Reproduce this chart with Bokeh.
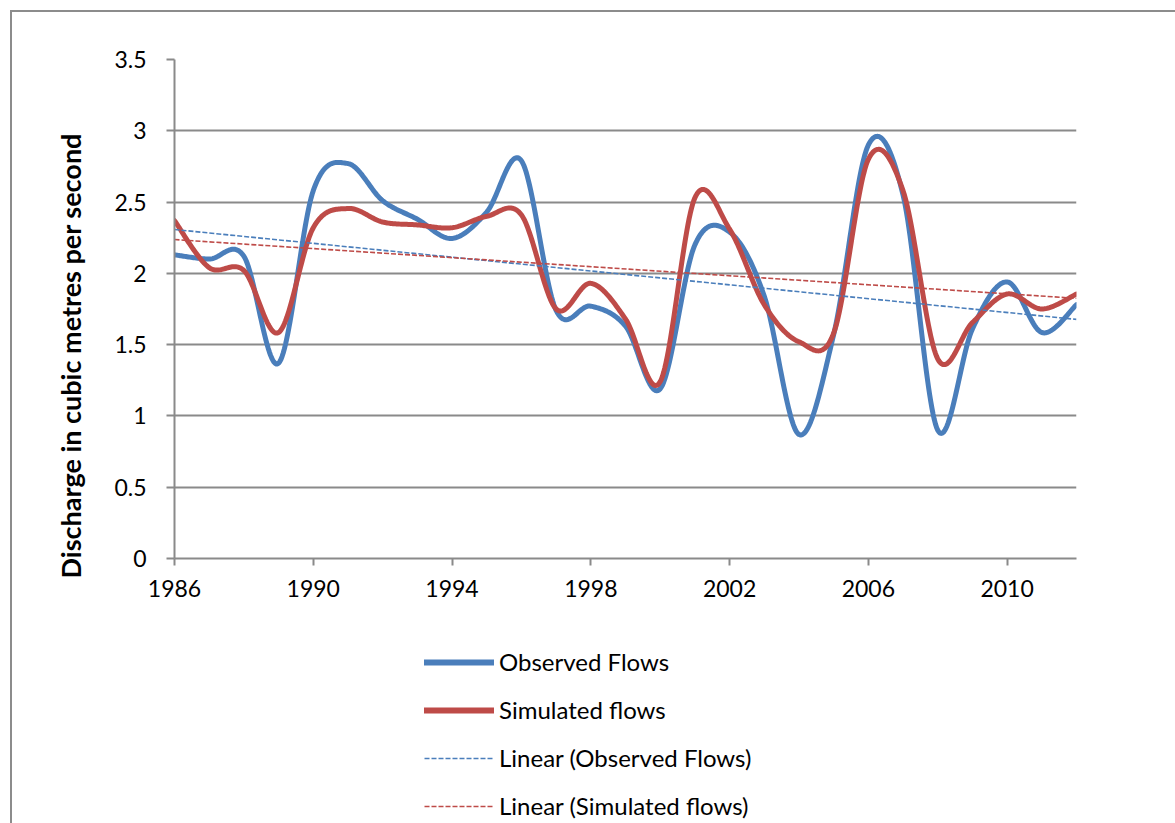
import numpy as np
from bokeh.plotting import figure
from bokeh.layouts import column
from bokeh.models import (Range1d, FixedTicker, CustomJSTickFormatter, Legend,
                          LegendItem, Title)
from bokeh.embed import file_html
from bokeh.resources import INLINE

# ---- data ----
years = list(range(1986, 2013))
observed = [2.13, 2.10, 2.12, 1.37, 2.58, 2.77, 2.51, 2.38, 2.245, 2.43,
            2.79, 1.74, 1.77, 1.63, 1.19, 2.20, 2.29, 1.84, 0.87, 1.57,
            2.90, 2.55, 0.90, 1.61, 1.94, 1.585, 1.78]
simulated = [2.37, 2.04, 2.02, 1.585, 2.32, 2.455, 2.36, 2.34, 2.32, 2.40,
             2.41, 1.75, 1.93, 1.68, 1.24, 2.53, 2.31, 1.78, 1.52, 1.58,
             2.80, 2.58, 1.40, 1.655, 1.855, 1.75, 1.855]
x_ticks = [1986, 1990, 1994, 1998, 2002, 2006, 2010]
y_ticks = [0, 0.5, 1, 1.5, 2, 2.5, 3, 3.5]
series_names = ["Observed Flows", "Simulated flows",
                "Linear (Observed Flows)", "Linear (Simulated flows)"]
y_title = "Discharge in cubic metres per second"

BLUE = "#4a7ebb"
RED = "#be4b48"
GRAY = "#8a8a8a"
FONT = "Lato"


def smooth_curve(xs, ys, n=30):
    """Excel-style smoothed line drawing (Catmull-Rom Bezier through points)."""
    P = np.column_stack([np.asarray(xs, float), np.asarray(ys, float)])
    m = len(P)
    out = []
    for i in range(m - 1):
        p0 = P[i - 1] if i > 0 else P[i]
        p1 = P[i]
        p2 = P[i + 1]
        p3 = P[i + 2] if i + 2 < m else P[i + 1]
        c1 = p1 + (p2 - p0) / 6.0
        c2 = p2 - (p3 - p1) / 6.0
        t = np.linspace(0, 1, n, endpoint=(i == m - 2))[:, None]
        seg = ((1 - t) ** 3) * p1 + 3 * ((1 - t) ** 2) * t * c1 + \
            3 * (1 - t) * t ** 2 * c2 + t ** 3 * p2
        out.append(seg)
    out = np.vstack(out)
    return out[:, 0], out[:, 1]


MAIN_H = 606
LEG_H = 813 - MAIN_H

p = figure(frame_width=902, frame_height=499,
           min_border_left=162, min_border_top=47, min_border_right=101,
           min_border_bottom=MAIN_H - 47 - 499,
           x_range=Range1d(1986, 2012), y_range=Range1d(0, 3.5),
           output_backend="svg", toolbar_location=None)
p.outline_line_color = None
p.background_fill_color = "white"
p.border_fill_color = "white"

# axes
for ax in (p.xaxis[0], p.yaxis[0]):
    ax.axis_line_color = GRAY
    ax.axis_line_width = 2
    ax.major_tick_line_color = GRAY
    ax.major_tick_line_width = 2
    ax.major_tick_in = 0
    ax.minor_tick_line_color = None
    ax.major_label_text_font = FONT
    ax.major_label_text_font_size = "23px"
    ax.major_label_text_color = "black"
    ax.formatter = CustomJSTickFormatter(code="return tick.toString()")

p.xaxis[0].ticker = FixedTicker(ticks=x_ticks)
p.xaxis[0].major_tick_out = 7
p.xaxis[0].major_label_standoff = 14
p.yaxis[0].ticker = FixedTicker(ticks=y_ticks)
p.yaxis[0].major_tick_out = 8
p.yaxis[0].major_label_standoff = 20

p.xgrid.grid_line_color = None
p.ygrid.grid_line_color = GRAY
p.ygrid.grid_line_width = 2
p.ygrid.ticker = FixedTicker(ticks=y_ticks)

# trend lines (least squares fit of each series)
yr = np.asarray(years, float)
ko, bo = np.polyfit(yr, observed, 1)
ks, bs = np.polyfit(yr, simulated, 1)
tx = [years[0], years[-1]]

main_style = dict(line_width=5, line_cap="round", line_join="round")
trend_style = dict(line_width=1.6, line_dash="5 2")

sx, sy = smooth_curve(years, observed)
p.line(sx, sy, line_color=BLUE, **main_style)
sx2, sy2 = smooth_curve(years, simulated)
p.line(sx2, sy2, line_color=RED, **main_style)
p.line(tx, [ko * v + bo for v in tx], line_color=BLUE, **trend_style)
p.line(tx, [ks * v + bs for v in tx], line_color=RED, **trend_style)

title = Title(text=y_title, align="left", offset=-20, standoff=50,
              vertical_align="bottom", text_font=FONT,
              text_font_size="27px", text_font_style="bold",
              text_color="black")
p.add_layout(title, "left")

# ---- legend panel below the chart (its frame aligns with the chart's) ----
q = figure(width=1165, height=LEG_H, x_range=Range1d(0, 1),
           y_range=Range1d(0, 1), output_backend="svg",
           toolbar_location=None, min_border=0,
           x_axis_location=None, y_axis_location=None)
q.outline_line_color = None
q.grid.grid_line_color = None
q.background_fill_color = "white"
q.border_fill_color = "white"

# proxy renderers (kept outside the visible range) that carry the legend styles
hidden_x = [-5, -4]
hidden_y = [-5, -4]
l_obs = q.line(hidden_x, hidden_y, line_color=BLUE, line_width=6,
               line_cap="round")
l_sim = q.line(hidden_x, hidden_y, line_color=RED, line_width=6,
               line_cap="round")
l_tob = q.line(hidden_x, hidden_y, line_color=BLUE, **trend_style)
l_tsi = q.line(hidden_x, hidden_y, line_color=RED, **trend_style)

legend = Legend(items=[LegendItem(label=series_names[0], renderers=[l_obs]),
                       LegendItem(label=series_names[1], renderers=[l_sim]),
                       LegendItem(label=series_names[2], renderers=[l_tob]),
                       LegendItem(label=series_names[3], renderers=[l_tsi])],
                location=(250, 5), orientation="vertical",
                glyph_width=70, glyph_height=20, label_height=20,
                label_standoff=5, spacing=19, padding=0, margin=0,
                border_line_color=None, background_fill_alpha=0,
                label_text_font=FONT, label_text_font_size="24px",
                label_text_color="black")
q.add_layout(legend, "center")

layout = column(p, q, spacing=0, margin=(10, 0, 0, 10))
layout.styles = {"border-left": "2px solid #8c8c8c",
                 "border-top": "2px solid #8c8c8c"}

open("out.html", "w").write(file_html(layout, INLINE))
